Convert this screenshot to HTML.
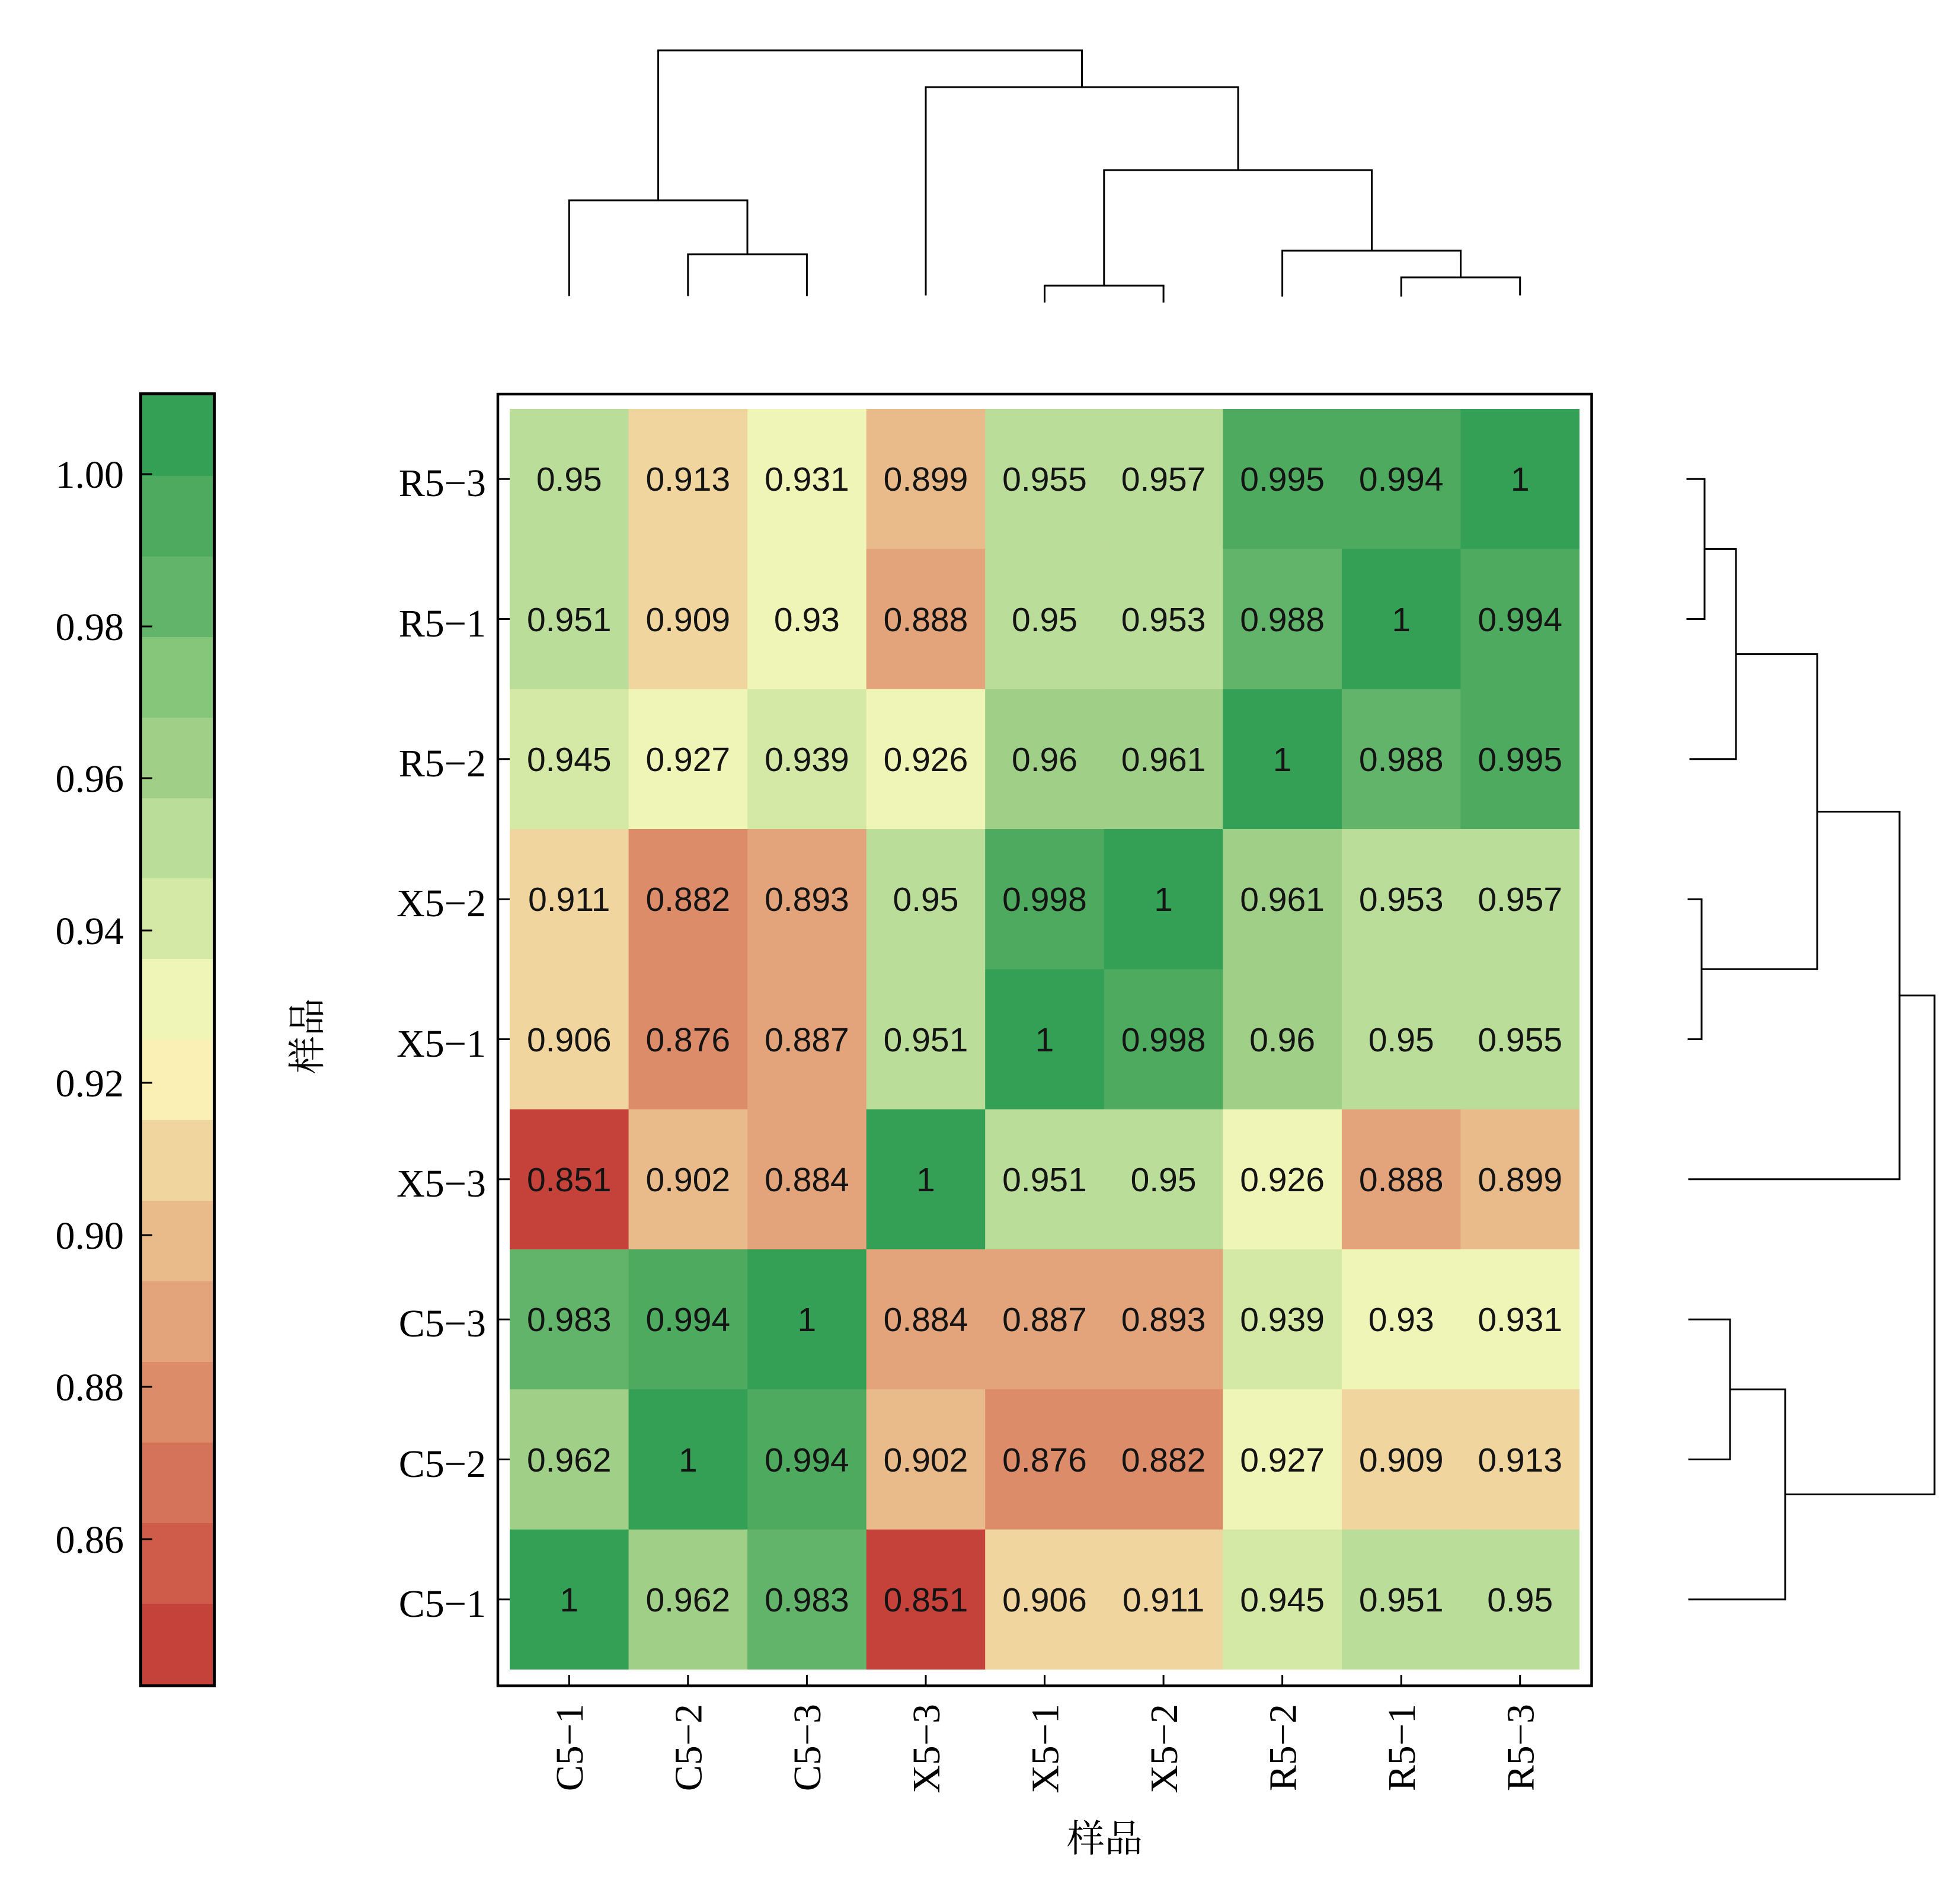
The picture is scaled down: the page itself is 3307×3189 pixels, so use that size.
<!DOCTYPE html>
<html>
<head>
<meta charset="utf-8">
<style>
html,body{margin:0;padding:0;background:#fff;}
svg{display:block;}
.b0{fill:#34a055}.b1{fill:#4daa5f}.b2{fill:#62b46a}.b3{fill:#86c67b}.b4{fill:#a0d088}.b5{fill:#bbdd9a}.b6{fill:#d5e9a7}.b7{fill:#eff5b6}.b8{fill:#faefb4}.b9{fill:#f1d59f}.b10{fill:#e9bb8b}.b11{fill:#e3a47b}.b12{fill:#dd8c6a}.b13{fill:#d5725a}.b14{fill:#cf5b4b}.b15{fill:#c5423a}
.v{font-family:"Liberation Sans",Arial,sans-serif;font-size:57px;fill:#141414;text-anchor:middle;}
.lab{font-family:"Liberation Serif","Times New Roman",serif;font-size:66px;fill:#000;}
.cb{font-family:"Liberation Serif","Times New Roman",serif;font-size:66px;fill:#000;text-anchor:end;}
.cjk{font-family:"Liberation Serif","Noto Serif CJK SC","Noto Sans CJK SC",serif;font-size:64px;fill:#000;text-anchor:middle;dominant-baseline:central;}
.ln{stroke:#000;stroke-width:3;fill:none;stroke-linecap:square;}
</style>
</head>
<body>
<svg width="3307" height="3189" viewBox="0 0 3307 3189" xmlns="http://www.w3.org/2000/svg">
<rect x="0" y="0" width="3307" height="3189" fill="#fff"/>

<!-- Colorbar -->
<g>
<rect class="b0" x="240" y="667" width="120" height="137"/>
<rect class="b1" x="240" y="803" width="120" height="137"/>
<rect class="b2" x="240" y="939" width="120" height="137"/>
<rect class="b3" x="240" y="1075" width="120" height="137"/>
<rect class="b4" x="240" y="1211" width="120" height="137"/>
<rect class="b5" x="240" y="1347" width="120" height="137"/>
<rect class="b6" x="240" y="1482" width="120" height="137"/>
<rect class="b7" x="240" y="1618" width="120" height="137"/>
<rect class="b8" x="240" y="1754" width="120" height="137"/>
<rect class="b9" x="240" y="1890" width="120" height="137"/>
<rect class="b10" x="240" y="2026" width="120" height="137"/>
<rect class="b11" x="240" y="2162" width="120" height="137"/>
<rect class="b12" x="240" y="2298" width="120" height="137"/>
<rect class="b13" x="240" y="2434" width="120" height="137"/>
<rect class="b14" x="240" y="2570" width="120" height="137"/>
<rect class="b15" x="240" y="2706" width="120" height="137"/>
<rect x="237.5" y="664.5" width="124" height="2180" fill="none" stroke="#000" stroke-width="5"/>
<g stroke="#000" stroke-width="3">
<line x1="240" y1="800" x2="257" y2="800"/>
<line x1="240" y1="1057" x2="257" y2="1057"/>
<line x1="240" y1="1313" x2="257" y2="1313"/>
<line x1="240" y1="1570" x2="257" y2="1570"/>
<line x1="240" y1="1827" x2="257" y2="1827"/>
<line x1="240" y1="2084" x2="257" y2="2084"/>
<line x1="240" y1="2340" x2="257" y2="2340"/>
<line x1="240" y1="2597" x2="257" y2="2597"/>
</g>
<text class="cb" x="209" y="823">1.00</text>
<text class="cb" x="209" y="1080">0.98</text>
<text class="cb" x="209" y="1336">0.96</text>
<text class="cb" x="209" y="1593">0.94</text>
<text class="cb" x="209" y="1850">0.92</text>
<text class="cb" x="209" y="2107">0.90</text>
<text class="cb" x="209" y="2363">0.88</text>
<text class="cb" x="209" y="2620">0.86</text>
</g>

<!-- Y axis title -->
<text class="cjk" transform="translate(519,1748) rotate(-90)">样品</text>

<!-- Heatmap cells -->
<g>
<rect class="b5" x="860" y="690" width="201.5" height="237.3"/>
<rect class="b9" x="1060.6" y="690" width="201.5" height="237.3"/>
<rect class="b7" x="1261.1" y="690" width="201.5" height="237.3"/>
<rect class="b10" x="1461.7" y="690" width="201.5" height="237.3"/>
<rect class="b5" x="1662.2" y="690" width="201.5" height="237.3"/>
<rect class="b5" x="1862.8" y="690" width="201.5" height="237.3"/>
<rect class="b1" x="2063.3" y="690" width="201.5" height="237.3"/>
<rect class="b1" x="2263.9" y="690" width="201.5" height="237.3"/>
<rect class="b0" x="2464.4" y="690" width="200.6" height="237.3"/>
<rect class="b5" x="860" y="926.3" width="201.5" height="237.3"/>
<rect class="b9" x="1060.6" y="926.3" width="201.5" height="237.3"/>
<rect class="b7" x="1261.1" y="926.3" width="201.5" height="237.3"/>
<rect class="b11" x="1461.7" y="926.3" width="201.5" height="237.3"/>
<rect class="b5" x="1662.2" y="926.3" width="201.5" height="237.3"/>
<rect class="b5" x="1862.8" y="926.3" width="201.5" height="237.3"/>
<rect class="b2" x="2063.3" y="926.3" width="201.5" height="237.3"/>
<rect class="b0" x="2263.9" y="926.3" width="201.5" height="237.3"/>
<rect class="b1" x="2464.4" y="926.3" width="200.6" height="237.3"/>
<rect class="b6" x="860" y="1162.7" width="201.5" height="237.3"/>
<rect class="b7" x="1060.6" y="1162.7" width="201.5" height="237.3"/>
<rect class="b6" x="1261.1" y="1162.7" width="201.5" height="237.3"/>
<rect class="b7" x="1461.7" y="1162.7" width="201.5" height="237.3"/>
<rect class="b4" x="1662.2" y="1162.7" width="201.5" height="237.3"/>
<rect class="b4" x="1862.8" y="1162.7" width="201.5" height="237.3"/>
<rect class="b0" x="2063.3" y="1162.7" width="201.5" height="237.3"/>
<rect class="b2" x="2263.9" y="1162.7" width="201.5" height="237.3"/>
<rect class="b1" x="2464.4" y="1162.7" width="200.6" height="237.3"/>
<rect class="b9" x="860" y="1399" width="201.5" height="237.3"/>
<rect class="b12" x="1060.6" y="1399" width="201.5" height="237.3"/>
<rect class="b11" x="1261.1" y="1399" width="201.5" height="237.3"/>
<rect class="b5" x="1461.7" y="1399" width="201.5" height="237.3"/>
<rect class="b1" x="1662.2" y="1399" width="201.5" height="237.3"/>
<rect class="b0" x="1862.8" y="1399" width="201.5" height="237.3"/>
<rect class="b4" x="2063.3" y="1399" width="201.5" height="237.3"/>
<rect class="b5" x="2263.9" y="1399" width="201.5" height="237.3"/>
<rect class="b5" x="2464.4" y="1399" width="200.6" height="237.3"/>
<rect class="b9" x="860" y="1635.3" width="201.5" height="237.3"/>
<rect class="b12" x="1060.6" y="1635.3" width="201.5" height="237.3"/>
<rect class="b11" x="1261.1" y="1635.3" width="201.5" height="237.3"/>
<rect class="b5" x="1461.7" y="1635.3" width="201.5" height="237.3"/>
<rect class="b0" x="1662.2" y="1635.3" width="201.5" height="237.3"/>
<rect class="b1" x="1862.8" y="1635.3" width="201.5" height="237.3"/>
<rect class="b4" x="2063.3" y="1635.3" width="201.5" height="237.3"/>
<rect class="b5" x="2263.9" y="1635.3" width="201.5" height="237.3"/>
<rect class="b5" x="2464.4" y="1635.3" width="200.6" height="237.3"/>
<rect class="b15" x="860" y="1871.7" width="201.5" height="237.3"/>
<rect class="b10" x="1060.6" y="1871.7" width="201.5" height="237.3"/>
<rect class="b11" x="1261.1" y="1871.7" width="201.5" height="237.3"/>
<rect class="b0" x="1461.7" y="1871.7" width="201.5" height="237.3"/>
<rect class="b5" x="1662.2" y="1871.7" width="201.5" height="237.3"/>
<rect class="b5" x="1862.8" y="1871.7" width="201.5" height="237.3"/>
<rect class="b7" x="2063.3" y="1871.7" width="201.5" height="237.3"/>
<rect class="b11" x="2263.9" y="1871.7" width="201.5" height="237.3"/>
<rect class="b10" x="2464.4" y="1871.7" width="200.6" height="237.3"/>
<rect class="b2" x="860" y="2108" width="201.5" height="237.3"/>
<rect class="b1" x="1060.6" y="2108" width="201.5" height="237.3"/>
<rect class="b0" x="1261.1" y="2108" width="201.5" height="237.3"/>
<rect class="b11" x="1461.7" y="2108" width="201.5" height="237.3"/>
<rect class="b11" x="1662.2" y="2108" width="201.5" height="237.3"/>
<rect class="b11" x="1862.8" y="2108" width="201.5" height="237.3"/>
<rect class="b6" x="2063.3" y="2108" width="201.5" height="237.3"/>
<rect class="b7" x="2263.9" y="2108" width="201.5" height="237.3"/>
<rect class="b7" x="2464.4" y="2108" width="200.6" height="237.3"/>
<rect class="b4" x="860" y="2344.3" width="201.5" height="237.3"/>
<rect class="b0" x="1060.6" y="2344.3" width="201.5" height="237.3"/>
<rect class="b1" x="1261.1" y="2344.3" width="201.5" height="237.3"/>
<rect class="b10" x="1461.7" y="2344.3" width="201.5" height="237.3"/>
<rect class="b12" x="1662.2" y="2344.3" width="201.5" height="237.3"/>
<rect class="b12" x="1862.8" y="2344.3" width="201.5" height="237.3"/>
<rect class="b7" x="2063.3" y="2344.3" width="201.5" height="237.3"/>
<rect class="b9" x="2263.9" y="2344.3" width="201.5" height="237.3"/>
<rect class="b9" x="2464.4" y="2344.3" width="200.6" height="237.3"/>
<rect class="b0" x="860" y="2580.7" width="201.5" height="236.3"/>
<rect class="b4" x="1060.6" y="2580.7" width="201.5" height="236.3"/>
<rect class="b2" x="1261.1" y="2580.7" width="201.5" height="236.3"/>
<rect class="b15" x="1461.7" y="2580.7" width="201.5" height="236.3"/>
<rect class="b9" x="1662.2" y="2580.7" width="201.5" height="236.3"/>
<rect class="b9" x="1862.8" y="2580.7" width="201.5" height="236.3"/>
<rect class="b6" x="2063.3" y="2580.7" width="201.5" height="236.3"/>
<rect class="b5" x="2263.9" y="2580.7" width="201.5" height="236.3"/>
<rect class="b5" x="2464.4" y="2580.7" width="200.6" height="236.3"/>
</g>

<!-- Heatmap values -->
<g class="v">
<text x="960.3" y="828">0.95</text><text x="1160.8" y="828">0.913</text><text x="1361.4" y="828">0.931</text><text x="1562" y="828">0.899</text><text x="1762.5" y="828">0.955</text><text x="1963.1" y="828">0.957</text><text x="2163.6" y="828">0.995</text><text x="2364.2" y="828">0.994</text><text x="2564.7" y="828">1</text>
<text x="960.3" y="1065">0.951</text><text x="1160.8" y="1065">0.909</text><text x="1361.4" y="1065">0.93</text><text x="1562" y="1065">0.888</text><text x="1762.5" y="1065">0.95</text><text x="1963.1" y="1065">0.953</text><text x="2163.6" y="1065">0.988</text><text x="2364.2" y="1065">1</text><text x="2564.7" y="1065">0.994</text>
<text x="960.3" y="1301">0.945</text><text x="1160.8" y="1301">0.927</text><text x="1361.4" y="1301">0.939</text><text x="1562" y="1301">0.926</text><text x="1762.5" y="1301">0.96</text><text x="1963.1" y="1301">0.961</text><text x="2163.6" y="1301">1</text><text x="2364.2" y="1301">0.988</text><text x="2564.7" y="1301">0.995</text>
<text x="960.3" y="1537">0.911</text><text x="1160.8" y="1537">0.882</text><text x="1361.4" y="1537">0.893</text><text x="1562" y="1537">0.95</text><text x="1762.5" y="1537">0.998</text><text x="1963.1" y="1537">1</text><text x="2163.6" y="1537">0.961</text><text x="2364.2" y="1537">0.953</text><text x="2564.7" y="1537">0.957</text>
<text x="960.3" y="1774">0.906</text><text x="1160.8" y="1774">0.876</text><text x="1361.4" y="1774">0.887</text><text x="1562" y="1774">0.951</text><text x="1762.5" y="1774">1</text><text x="1963.1" y="1774">0.998</text><text x="2163.6" y="1774">0.96</text><text x="2364.2" y="1774">0.95</text><text x="2564.7" y="1774">0.955</text>
<text x="960.3" y="2010">0.851</text><text x="1160.8" y="2010">0.902</text><text x="1361.4" y="2010">0.884</text><text x="1562" y="2010">1</text><text x="1762.5" y="2010">0.951</text><text x="1963.1" y="2010">0.95</text><text x="2163.6" y="2010">0.926</text><text x="2364.2" y="2010">0.888</text><text x="2564.7" y="2010">0.899</text>
<text x="960.3" y="2246">0.983</text><text x="1160.8" y="2246">0.994</text><text x="1361.4" y="2246">1</text><text x="1562" y="2246">0.884</text><text x="1762.5" y="2246">0.887</text><text x="1963.1" y="2246">0.893</text><text x="2163.6" y="2246">0.939</text><text x="2364.2" y="2246">0.93</text><text x="2564.7" y="2246">0.931</text>
<text x="960.3" y="2483">0.962</text><text x="1160.8" y="2483">1</text><text x="1361.4" y="2483">0.994</text><text x="1562" y="2483">0.902</text><text x="1762.5" y="2483">0.876</text><text x="1963.1" y="2483">0.882</text><text x="2163.6" y="2483">0.927</text><text x="2364.2" y="2483">0.909</text><text x="2564.7" y="2483">0.913</text>
<text x="960.3" y="2719">1</text><text x="1160.8" y="2719">0.962</text><text x="1361.4" y="2719">0.983</text><text x="1562" y="2719">0.851</text><text x="1762.5" y="2719">0.906</text><text x="1963.1" y="2719">0.911</text><text x="2163.6" y="2719">0.945</text><text x="2364.2" y="2719">0.951</text><text x="2564.7" y="2719">0.95</text>
</g>

<!-- Frame -->
<rect x="840" y="665" width="1845.5" height="2179.5" fill="none" stroke="#000" stroke-width="4.5"/>

<!-- Ticks -->
<g stroke="#000" stroke-width="3">
<line x1="842" y1="808.2" x2="860" y2="808.2"/>
<line x1="842" y1="1044.5" x2="860" y2="1044.5"/>
<line x1="842" y1="1280.8" x2="860" y2="1280.8"/>
<line x1="842" y1="1517.2" x2="860" y2="1517.2"/>
<line x1="842" y1="1753.5" x2="860" y2="1753.5"/>
<line x1="842" y1="1989.8" x2="860" y2="1989.8"/>
<line x1="842" y1="2226.2" x2="860" y2="2226.2"/>
<line x1="842" y1="2462.5" x2="860" y2="2462.5"/>
<line x1="842" y1="2698.8" x2="860" y2="2698.8"/>
<line x1="960.3" y1="2826" x2="960.3" y2="2843"/>
<line x1="1160.8" y1="2826" x2="1160.8" y2="2843"/>
<line x1="1361.4" y1="2826" x2="1361.4" y2="2843"/>
<line x1="1562" y1="2826" x2="1562" y2="2843"/>
<line x1="1762.5" y1="2826" x2="1762.5" y2="2843"/>
<line x1="1963.1" y1="2826" x2="1963.1" y2="2843"/>
<line x1="2163.6" y1="2826" x2="2163.6" y2="2843"/>
<line x1="2364.2" y1="2826" x2="2364.2" y2="2843"/>
<line x1="2564.7" y1="2826" x2="2564.7" y2="2843"/>
</g>

<!-- Y labels -->
<g class="lab" text-anchor="end">
<text x="820" y="837">R5−3</text>
<text x="820" y="1074">R5−1</text>
<text x="820" y="1310">R5−2</text>
<text x="820" y="1546">X5−2</text>
<text x="820" y="1783">X5−1</text>
<text x="820" y="2019">X5−3</text>
<text x="820" y="2255">C5−3</text>
<text x="820" y="2492">C5−2</text>
<text x="820" y="2728">C5−1</text>
</g>

<!-- X labels -->
<g class="lab" text-anchor="end">
<text transform="translate(983,2875) rotate(-90)">C5−1</text>
<text transform="translate(1183.5,2875) rotate(-90)">C5−2</text>
<text transform="translate(1384,2875) rotate(-90)">C5−3</text>
<text transform="translate(1585,2875) rotate(-90)">X5−3</text>
<text transform="translate(1785.5,2875) rotate(-90)">X5−1</text>
<text transform="translate(1986,2875) rotate(-90)">X5−2</text>
<text transform="translate(2186.5,2875) rotate(-90)">R5−2</text>
<text transform="translate(2387,2875) rotate(-90)">R5−1</text>
<text transform="translate(2587.5,2875) rotate(-90)">R5−3</text>
</g>

<!-- X axis title -->
<text class="cjk" x="1864" y="3103">样品</text>

<!-- Top dendrogram -->
<g class="ln">
<polyline points="960.3,498 960.3,338 1261,338 1261,429"/>
<polyline points="1160.8,498 1160.8,429 1361.4,429 1361.4,498"/>
<polyline points="1110.6,338 1110.6,85 1825.5,85 1825.5,147"/>
<polyline points="1562,497 1562,147 2089,147 2089,287"/>
<polyline points="1762.5,509 1762.5,482 1963.1,482 1963.1,509"/>
<polyline points="1862.8,482 1862.8,287 2314.5,287 2314.5,423"/>
<polyline points="2163.6,499 2163.6,423 2464.5,423 2464.5,468"/>
<polyline points="2364.2,499 2364.2,468 2564.7,468 2564.7,497"/>
</g>

<!-- Right dendrogram -->
<g class="ln">
<polyline points="2847,808.2 2876,808.2 2876,1044.5 2847,1044.5"/>
<polyline points="2876,926.4 2929,926.4 2929,1280.8 2852,1280.8"/>
<polyline points="2849,1517.2 2871,1517.2 2871,1753.5 2849,1753.5"/>
<polyline points="2929,1103.6 3066,1103.6 3066,1635.3 2871,1635.3"/>
<polyline points="3066,1369.5 3205,1369.5 3205,1989.8 2850,1989.8"/>
<polyline points="2850,2226.2 2919,2226.2 2919,2462.5 2850,2462.5"/>
<polyline points="2919,2344.3 3012,2344.3 3012,2698.8 2850,2698.8"/>
<polyline points="3205,1679.7 3264,1679.7 3264,2521.5 3012,2521.5"/>
</g>
</svg>
</body>
</html>
